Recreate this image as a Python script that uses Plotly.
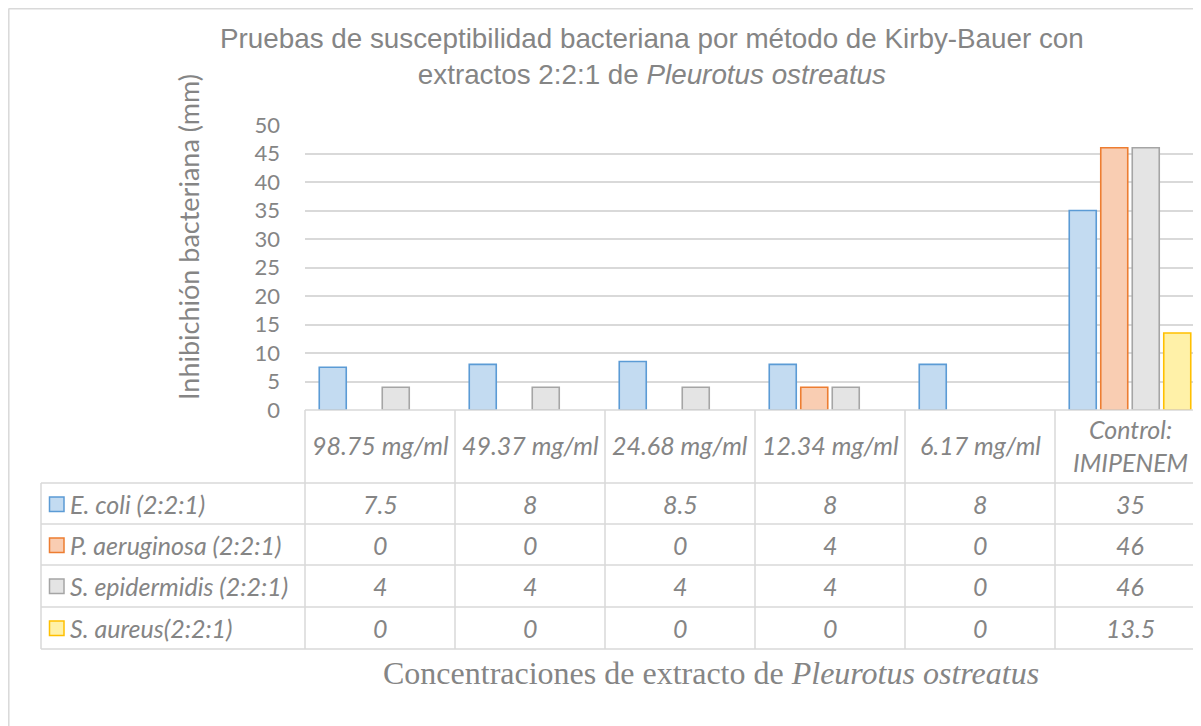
import plotly.graph_objects as go

categories = ["98.75 mg/ml", "49.37 mg/ml", "24.68 mg/ml", "12.34 mg/ml", "6.17 mg/ml", "Control:<br>IMIPENEM"]
series_names = ["E. coli (2:2:1)", "P. aeruginosa (2:2:1)", "S. epidermidis (2:2:1)", "S. aureus(2:2:1)"]
e_coli = [7.5, 8, 8.5, 8, 8, 35]
p_aeruginosa = [0, 0, 0, 4, 0, 46]
s_epidermidis = [4, 4, 4, 4, 0, 46]
s_aureus = [0, 0, 0, 0, 0, 13.5]
y_ticks = [0, 5, 10, 15, 20, 25, 30, 35, 40, 45, 50]

series_values = [e_coli, p_aeruginosa, s_epidermidis, s_aureus]
fills = ["#c3dbf1", "#f9cdb2", "#e4e4e4", "#fff1a8"]
lines = ["#5b9bd5", "#ed7d31", "#a5a5a5", "#ffc000"]

OFF = 8  # page body margin offset
W, H = 1201, 726
L, R_PX, T, B = 305, 1209, 125, 410
TXT = "#858585"
GRID = "#d9d9d9"
SANS = "Lato, 'Open Sans', sans-serif"


def px(p):
    return (p - L) / (R_PX - L)


def py(p):
    return (B - p) / (B - T)


fig = go.Figure()
xs = list(range(len(categories)))
for name, vals, f, lc in zip(series_names, series_values, fills, lines):
    fig.add_trace(go.Bar(
        x=xs, y=vals, name=name, showlegend=False,
        marker=dict(color=f, line=dict(color=lc, width=[0 if v == 0 else 1.6 for v in vals])),
    ))

shapes = []
shapes.append(dict(type="line", xref="paper", yref="paper", x0=px(8.5), x1=px(1215), y0=py(8.8), y1=py(8.8),
                   line=dict(color=GRID, width=1.5)))
shapes.append(dict(type="line", xref="paper", yref="paper", x0=px(8.8), x1=px(8.8), y0=py(8.8), y1=py(740),
                   line=dict(color=GRID, width=1.5)))

row_lines = [483, 524, 565, 607, 649]
for yl in row_lines:
    shapes.append(dict(type="line", xref="paper", yref="paper", x0=px(41), x1=px(1215), y0=py(yl), y1=py(yl),
                       line=dict(color=GRID, width=1.5)))
shapes.append(dict(type="line", xref="paper", yref="paper", x0=0, x1=px(1215), y0=0, y1=0,
                   line=dict(color=GRID, width=1.5)))
shapes.append(dict(type="line", xref="paper", yref="paper", x0=0, x1=0, y0=0, y1=py(649),
                   line=dict(color=GRID, width=1.5)))
shapes.append(dict(type="line", xref="paper", yref="paper", x0=px(41), x1=px(41), y0=py(483), y1=py(649),
                   line=dict(color=GRID, width=1.5)))
for i in range(1, len(categories)):
    shapes.append(dict(type="line", xref="x", yref="paper", x0=i - 0.5, x1=i - 0.5, y0=0, y1=py(649),
                       line=dict(color=GRID, width=1.5)))

annotations = []
for i, c in enumerate(categories):
    annotations.append(dict(xref="x", yref="paper", x=i, y=py(445), text=f"<i>{c}</i>", showarrow=False,
                            font=dict(family=SANS, size=25, color=TXT), xanchor="center", yanchor="middle"))

row_centers = [504, 545, 586, 628]
for name, vals, f, lc, yc in zip(series_names, series_values, fills, lines, row_centers):
    shapes.append(dict(type="rect", xref="paper", yref="paper", x0=px(49.5), x1=px(64), y0=py(yc - 7), y1=py(yc + 7.5),
                       fillcolor=f, line=dict(color=lc, width=1.5)))
    annotations.append(dict(xref="paper", yref="paper", x=px(68), y=py(yc), text=f"<i>{name}</i>", showarrow=False,
                            font=dict(family=SANS, size=25, color=TXT), xanchor="left", yanchor="middle"))
    for i, v in enumerate(vals):
        annotations.append(dict(xref="x", yref="paper", x=i, y=py(yc), text=f"<i>{v:g}</i>", showarrow=False,
                                font=dict(family=SANS, size=25, color=TXT), xanchor="center", yanchor="middle"))

annotations.append(dict(xref="paper", yref="paper", x=px(652), y=py(57),
                        text="Pruebas de susceptibilidad bacteriana por método de Kirby-Bauer con<br>extractos 2:2:1 de <i>Pleurotus ostreatus</i>",
                        showarrow=False, font=dict(family="Liberation Sans, Arial, sans-serif", size=27.8, color=TXT),
                        xanchor="center", yanchor="middle"))
annotations.append(dict(xref="paper", yref="paper", x=px(188), y=py(237), text="Inhibichión bacteriana (mm)",
                        textangle=-90, showarrow=False, font=dict(family=SANS, size=27, color=TXT),
                        xanchor="center", yanchor="middle"))
annotations.append(dict(xref="paper", yref="paper", x=px(711), y=py(673),
                        text="Concentraciones de extracto de <i>Pleurotus ostreatus</i>",
                        showarrow=False, font=dict(family="Liberation Serif, 'Times New Roman', serif", size=32, color=TXT),
                        xanchor="center", yanchor="middle"))

fig.update_layout(
    width=W, height=H,
    margin=dict(l=L - OFF, r=W - (R_PX - OFF), t=T - OFF, b=H - (B - OFF), pad=0),
    paper_bgcolor="white", plot_bgcolor="white",
    barmode="group", bargap=0.16, bargroupgap=0.143,
    xaxis=dict(range=[-0.5, -0.5 + (R_PX - L) / 150.0], showticklabels=False, showgrid=False, zeroline=False,
               showline=False, ticks=""),
    yaxis=dict(range=[0, 50], tickvals=y_ticks, showgrid=True, gridcolor=GRID, gridwidth=1.5, zeroline=False,
               showline=False, ticks="", ticklabelstandoff=24,
               tickfont=dict(family=SANS, size=22, color=TXT)),
    shapes=shapes, annotations=annotations,
)

fig.write_html("out.html")
